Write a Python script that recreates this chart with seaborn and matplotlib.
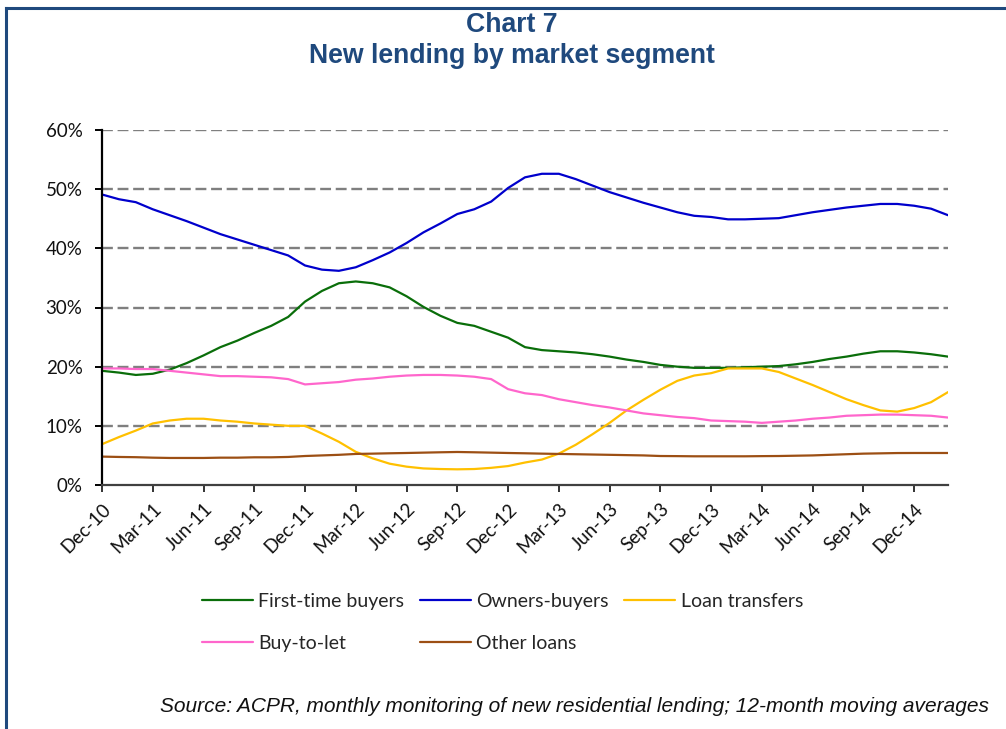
import numpy as np
import pandas as pd
import matplotlib
matplotlib.use("Agg")
import matplotlib.pyplot as plt
from matplotlib.lines import Line2D
import seaborn as sns

# Monthly observations, Dec-2010 to Feb-2015 (12-month moving averages, % of new lending)
months = pd.date_range("2010-12-01", periods=51, freq="MS")

first_time_buyers = [19.3, 19.0, 18.6, 18.8, 19.5, 20.6, 21.9, 23.3, 24.4, 25.7, 26.9, 28.4,
                     31.0, 32.8, 34.1, 34.4, 34.1, 33.4, 31.9, 30.1, 28.6, 27.4, 26.9, 25.9,
                     24.9, 23.3, 22.8, 22.6, 22.4, 22.1, 21.7, 21.2, 20.8, 20.3, 20.0, 19.8,
                     19.8, 19.8, 19.9, 20.0, 20.1, 20.4, 20.8, 21.3, 21.7, 22.2, 22.6, 22.6,
                     22.4, 22.1, 21.7]
owners_buyers = [49.1, 48.3, 47.8, 46.6, 45.6, 44.6, 43.5, 42.4, 41.5, 40.6, 39.7, 38.8,
                 37.1, 36.4, 36.2, 36.8, 38.0, 39.3, 40.9, 42.7, 44.2, 45.8, 46.6, 47.9,
                 50.2, 52.0, 52.6, 52.6, 51.7, 50.6, 49.5, 48.6, 47.7, 46.9, 46.1, 45.5,
                 45.3, 44.9, 44.9, 45.0, 45.1, 45.6, 46.1, 46.5, 46.9, 47.2, 47.5, 47.5,
                 47.2, 46.7, 45.6]
loan_transfers = [6.9, 8.1, 9.2, 10.4, 10.9, 11.2, 11.2, 10.9, 10.7, 10.4, 10.2, 10.0,
                  10.0, 8.7, 7.3, 5.6, 4.5, 3.6, 3.1, 2.8, 2.7, 2.65, 2.7, 2.9,
                  3.2, 3.8, 4.3, 5.3, 6.8, 8.6, 10.5, 12.6, 14.4, 16.1, 17.6, 18.5,
                  18.9, 19.7, 19.7, 19.7, 19.1, 18.0, 16.9, 15.7, 14.5, 13.5, 12.6, 12.4,
                  13.0, 14.0, 15.7]
buy_to_let = [19.7, 19.7, 19.6, 19.6, 19.3, 19.0, 18.7, 18.4, 18.4, 18.3, 18.2, 17.9,
              17.0, 17.2, 17.4, 17.8, 18.0, 18.3, 18.5, 18.6, 18.6, 18.5, 18.3, 17.9,
              16.2, 15.5, 15.2, 14.5, 14.0, 13.5, 13.1, 12.6, 12.1, 11.8, 11.5, 11.3,
              10.9, 10.8, 10.7, 10.5, 10.7, 10.9, 11.2, 11.4, 11.7, 11.8, 11.9, 11.9,
              11.8, 11.7, 11.4]
other_loans = [4.80, 4.74, 4.70, 4.62, 4.57, 4.57, 4.57, 4.62, 4.62, 4.68, 4.68, 4.74,
               4.90, 5.00, 5.10, 5.25, 5.30, 5.36, 5.41, 5.47, 5.53, 5.58, 5.53, 5.47,
               5.41, 5.36, 5.30, 5.25, 5.20, 5.15, 5.10, 5.05, 5.00, 4.90, 4.88, 4.85,
               4.85, 4.85, 4.85, 4.88, 4.90, 4.95, 5.00, 5.10, 5.20, 5.30, 5.35, 5.40,
               5.41, 5.41, 5.41]

series_names = ["First-time buyers", "Owners-buyers", "Loan transfers", "Buy-to-let", "Other loans"]
series_values = [first_time_buyers, owners_buyers, loan_transfers, buy_to_let, other_loans]
series_colors = ["#0A6E0A", "#0000CC", "#FFC000", "#FF66CC", "#9C4F14"]

y_ticks = [0, 10, 20, 30, 40, 50, 60]
y_tick_labels = ["0%", "10%", "20%", "30%", "40%", "50%", "60%"]

frames = [pd.DataFrame({"month": np.arange(len(months)), "share": vals, "segment": name})
          for name, vals in zip(series_names, series_values)]
df = pd.concat(frames, ignore_index=True)

sns.set_style("white")
plt.rcParams["font.family"] = ["Lato", "DejaVu Sans"]

navy = "#1F497D"
fig = plt.figure(figsize=(10.06, 7.29), dpi=100)
ax = fig.add_axes([102 / 1006, 1 - 485 / 729, 846 / 1006, 355 / 729])

sns.lineplot(data=df, x="month", y="share", hue="segment", hue_order=series_names,
             palette=dict(zip(series_names, series_colors)), linewidth=1.6,
             ax=ax, legend=False)

ax.set_xlim(0, len(months) - 1)
ax.set_ylim(0, 60)
ax.set_xlabel("")
ax.set_ylabel("")

# Horizontal dashed grid
for v in y_ticks[1:]:
    ax.axhline(v, color="#7F7F7F", lw=1.7, dashes=(4.6, 2.0), zorder=0)

ax.set_yticks(y_ticks)
ax.set_yticklabels(y_tick_labels, fontsize=13.5, color="#111111")

xt = np.arange(0, len(months), 3)
ax.set_xticks(xt)
ax.set_xticklabels([months[i].strftime("%b-%y") for i in xt], fontsize=13.5,
                   rotation=45, ha="right", rotation_mode="anchor", color="#111111")
ax.tick_params(axis="y", direction="out", length=5, width=1.4, pad=9, color="black", left=True)
ax.tick_params(axis="x", direction="out", length=5, width=1.4, pad=6, color="#333333", bottom=True)

for side in ["top", "right"]:
    ax.spines[side].set_visible(False)
ax.spines["left"].set_color("black")
ax.spines["left"].set_linewidth(1.6)
ax.spines["bottom"].set_color("#404040")
ax.spines["bottom"].set_linewidth(1.6)

# Titles
fig.text(512 / 1006, 1 - 25 / 729, "Chart 7", ha="center", va="center", fontsize=19.2,
         fontweight="bold", color=navy, family="Liberation Sans")
fig.text(512 / 1006, 1 - 56 / 729, "New lending by market segment", ha="center", va="center",
         fontsize=19.2, fontweight="bold", color=navy, family="Liberation Sans")

# Legend in two rows (matplotlib fills columns first)
handles = {n: Line2D([], [], color=c, lw=1.6) for n, c in zip(series_names, series_colors)}
order = ["First-time buyers", "Buy-to-let", "Owners-buyers", "Other loans", "Loan transfers"]
fig.legend([handles[n] for n in order], order, ncol=3, loc="upper left",
           bbox_to_anchor=(202 / 1006, 1 - 593 / 729), frameon=False, fontsize=14,
           handlelength=2.6, handletextpad=0.3, columnspacing=0.8, labelspacing=1.3,
           borderpad=0, borderaxespad=0)

fig.text(160 / 1006, 1 - 706 / 729,
         "Source: ACPR, monthly monitoring of new residential lending; 12-month moving averages",
         ha="left", va="center", fontsize=15.0, style="italic", color="#111111",
         family="Liberation Sans")

# Outer frame
fig.add_artist(Line2D([6 / 1006, 6 / 1006], [0, 1 - 8 / 729], transform=fig.transFigure,
                      color=navy, lw=2.2, solid_capstyle="projecting"))
fig.add_artist(Line2D([6 / 1006, 1], [1 - 8 / 729, 1 - 8 / 729], transform=fig.transFigure,
                      color=navy, lw=2.2, solid_capstyle="projecting"))

fig.savefig("out.png", dpi=100)
